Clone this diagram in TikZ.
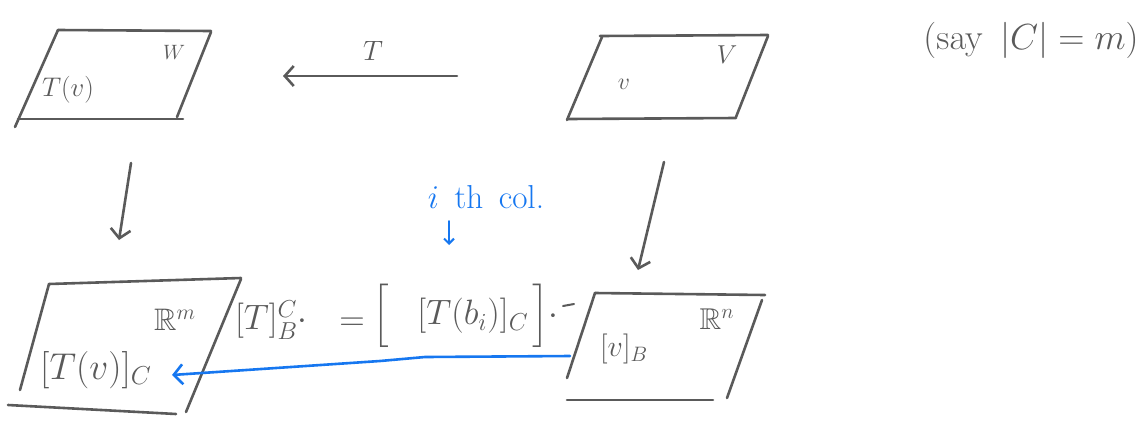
\documentclass[tikz,border=0pt]{standalone}
\usepackage{amsmath,amssymb}
\usetikzlibrary{arrows.meta}
\definecolor{pen}{HTML}{5A5A5A}
\definecolor{bluepen}{HTML}{1677F0}
\begin{document}
\begin{tikzpicture}[x=1pt,y=-1pt,
  stroke/.style={draw=pen,line width=2.6pt,line cap=round,line join=round},
  bstroke/.style={draw=bluepen,line width=2.6pt,line cap=round,line join=round},
  arr/.style={stroke,-{Straight Barb[length=9pt,width=20pt,line width=2.6pt]}},
  barr/.style={bstroke,-{Straight Barb[length=9pt,width=20pt,line width=2.6pt]}},
  lbl/.style={text=pen,inner sep=1pt,font=\huge},
  blbl/.style={text=bluepen,inner sep=1pt,font=\huge}]
\useasboundingbox (0,0) rectangle (1147,421);
% top-left W
\draw[stroke] (58,30) -- (211,31);
\draw[stroke] (58,30) -- (15,127);
\draw[stroke] (18,119) -- (183,119);
\draw[stroke] (211,32) -- (177,117);
\node[lbl,scale=1.3] (tv) at (68,90) {$T(v)$};
\node[lbl,scale=1.0] (W) at (174,52) {$W$};
% top-right V
\draw[stroke] (600,36) -- (768,35);
\draw[stroke] (602,37) -- (567,120);
\draw[stroke] (568,119) -- (736,118);
\draw[stroke] (768,36) -- (736,117);
\node[lbl,scale=1.15] (v) at (624,84) {$v$};
\node[lbl,scale=1.25] (V) at (727,55) {$V$};
% T arrow
\coordinate (ta) at (457,76);
\coordinate (tb) at (283,76);
\draw[arr] (ta) -- (tb);
\node[lbl,scale=1.35] (T) at (373,51) {$T$};
% say
\node[lbl,scale=1.75] (say) at (1031,40) {$(\mathrm{say}\ \,|C| = m)$};
% down arrows
\coordinate (la) at (131,163);
\coordinate (lb) at (119,240);
\draw[arr] (la) -- (lb);
\coordinate (ra) at (664,162);
\coordinate (rb) at (638,270);
\draw[arr] (ra) -- (rb);
% bottom-left R^m
\draw[stroke] (49,284) -- (241,278);
\draw[stroke] (49,284) -- (20,390);
\draw[stroke] (8,405) -- (176,414);
\draw[stroke] (241,279) -- (186,412);
\node[lbl,scale=1.8] (tvc) at (96,370) {$[T(v)]_C$};
\node[lbl,scale=1.5] (Rm) at (175,320) {$\mathbb{R}^m$};
% bottom-right R^n
\draw[stroke] (595,293) -- (765,295);
\draw[stroke] (595,293) -- (567,378);
\draw[stroke] (567,400) -- (713,400);
\draw[stroke] (762,300) -- (727,398);
\node[lbl,scale=1.45] (vb) at (624,349) {$[v]_B$};
\node[lbl,scale=1.45] (Rn) at (717,319) {$\mathbb{R}^n$};
% matrix formula
\node[lbl,scale=1.7,anchor=west] (mt) at (233,320) {$[T]^C_B\cdot$};
\node[lbl,scale=1.7] (eq) at (352,324) {$=$};
\node[lbl,scale=1.7] (lb1) at (381,316) {$\Big[$};
\node[lbl,scale=1.7] (col) at (473,316) {$[T(b_i)]_C$};
\node[lbl,scale=1.7,anchor=west] (rb1) at (530,316) {$\Big]\cdot$};
\draw[stroke,line width=2pt] (563,306) -- (574,304);
% blue
\node[blbl,scale=1.6] (ith) at (486,197) {$i$\, th\, col.};
\coordinate (ia) at (449,221);
\coordinate (ib) at (449,245);
\draw[barr,line width=2pt,-{Straight Barb[length=5pt,width=10pt,line width=2pt]}] (ia) -- (ib);
\coordinate (ba) at (570,356);
\coordinate (bk) at (425,357);
\coordinate (bb) at (172,375);
\draw[barr] (ba) -- (bk) -- (380,361) -- (bb);
\end{tikzpicture}
\end{document}
